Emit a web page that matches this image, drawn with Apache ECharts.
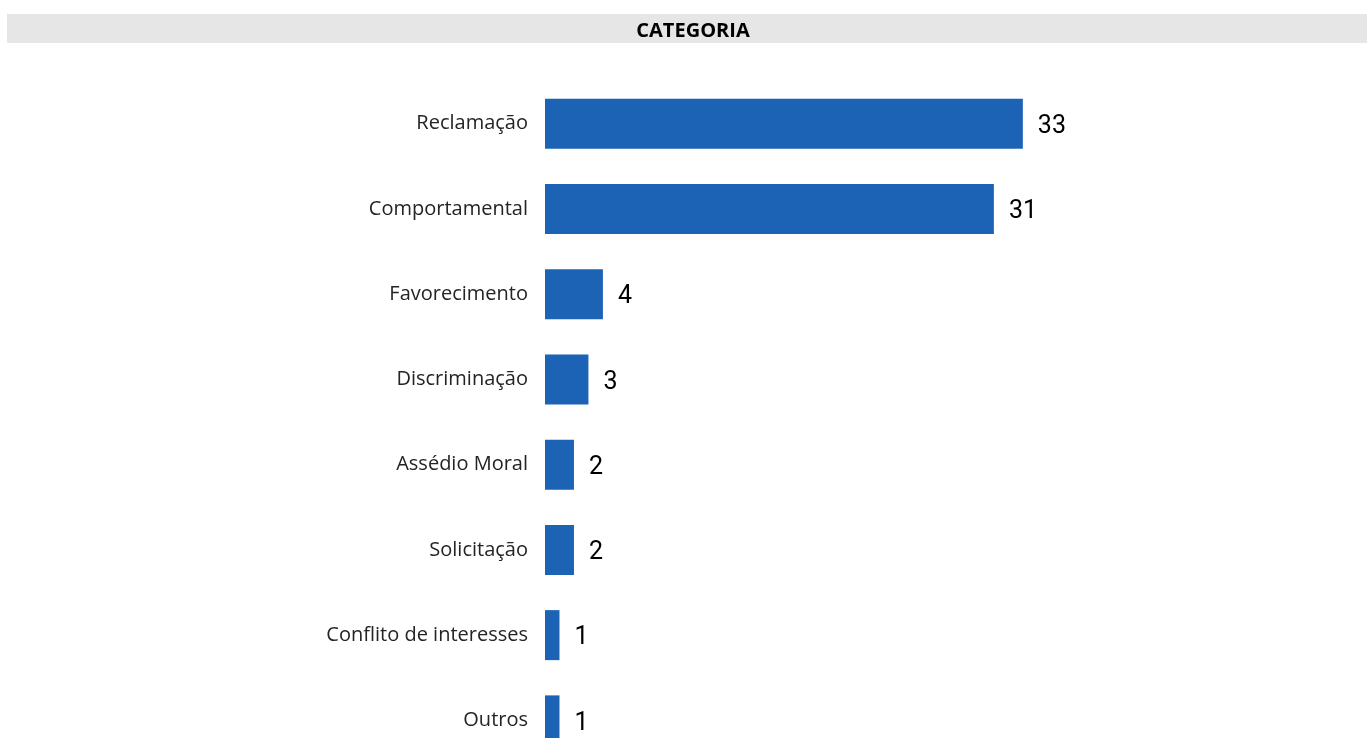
<!DOCTYPE html>
<html>
<head>
<meta charset="utf-8">
<script src="https://cdn.jsdelivr.net/npm/echarts@6/dist/echarts.min.js"></script>
<style>
html,body{margin:0;padding:0;background:#fff;overflow:hidden;}
#chart{width:1367px;height:770px;}
</style>
</head>
<body>
<div id="chart"></div>
<script>
const categories = ["Reclamação","Comportamental","Favorecimento","Discriminação","Assédio Moral","Solicitação","Conflito de interesses","Outros"];
const values = [33,31,4,3,2,2,1,1];
const titleText = "CATEGORIA";

const chart = echarts.init(document.getElementById('chart'));
chart.setOption({
  animation:false,
  backgroundColor:'#ffffff',
  graphic:[{
    type:'rect', left:7, top:14, z:-1,
    shape:{width:1360, height:29},
    style:{fill:'#E6E6E6'}
  }],
  title:{
    text:titleText, left:688, top:16, textAlign:'center',
    textStyle:{fontFamily:'Open Sans', fontWeight:'bold', fontSize:20, color:'#000'}
  },
  grid:{left:545, right:98, top:81, height:682, containLabel:false},
  xAxis:{
    type:'value', min:0, max:50, show:false
  },
  yAxis:{
    type:'category', data:categories, inverse:true,
    axisLine:{show:false}, axisTick:{show:false},
    axisLabel:{fontFamily:'Open Sans', fontSize:20, color:'#252423', margin:17, padding:[10,0,0,0]}
  },
  series:[{
    type:'bar', data:values, barWidth:50,
    itemStyle:{color:'#1C62B5'},
    label:{show:true, position:'right', distance:15, offset:[0,3],
      fontFamily:'Roboto', fontSize:25, color:'#000'}
  }]
});
</script>
</body>
</html>
